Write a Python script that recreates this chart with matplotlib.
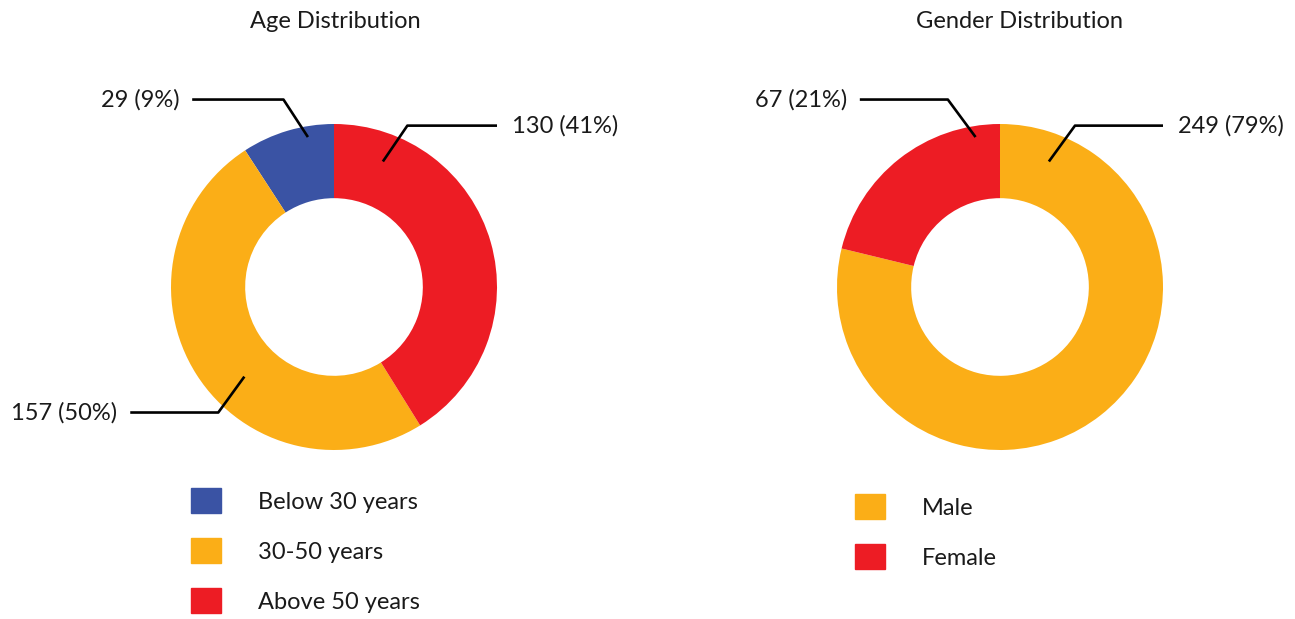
"""Age / gender donut charts."""
import matplotlib

matplotlib.use("Agg")
import matplotlib.pyplot as plt
from matplotlib.patches import Patch

plt.rcParams["font.family"] = ["Lato", "DejaVu Sans"]

age_labels = ["Below 30 years", "30-50 years", "Above 50 years"]
age_counts = [29, 157, 130]
age_pcts = [9, 50, 41]
age_colors = ["#3A53A4", "#FBAE17", "#ED1C24"]

gender_labels = ["Male", "Female"]
gender_counts = [249, 67]
gender_pcts = [79, 21]
gender_colors = ["#FBAE17", "#ED1C24"]

TEXT = "#1a1a1a"
W, H = 1295, 619
R = 163  # outer radius in px
FS = 17


def pie_axes(fig, cx, cy):
    half = 1.5 * R
    ax = fig.add_axes([(cx - half) / W, (H - cy - half) / H, 2 * half / W, 2 * half / H])
    ax.set_axis_off()
    return ax


def fix_limits(ax):
    ax.set_xlim(-1.5, 1.5)
    ax.set_ylim(-1.5, 1.5)
    ax.set_aspect("equal")


def leader(ax, tip, elbow, end_x, text, ha):
    ax.plot([tip[0], elbow[0], end_x], [tip[1], elbow[1], elbow[1]],
            color="black", lw=1.9, solid_capstyle="butt", clip_on=False)
    tx = end_x + (0.09 if ha == "left" else -0.08)
    ax.text(tx, elbow[1], text, ha=ha, va="center", fontsize=FS, color=TEXT)


fig = plt.figure(figsize=(W / 100, H / 100), dpi=100)

# Age donut
ax1 = pie_axes(fig, 334, 287)
ax1.pie(age_counts, colors=age_colors, startangle=90, counterclock=True,
        wedgeprops=dict(width=0.455, linewidth=0), radius=1)
fix_limits(ax1)
lbl = [f"{c} ({p}%)" for c, p in zip(age_counts, age_pcts)]
leader(ax1, (-0.16, 0.92), (-0.31, 1.15), -0.87, lbl[0], "right")
leader(ax1, (-0.55, -0.55), (-0.71, -0.77), -1.25, lbl[1], "right")
leader(ax1, (0.30, 0.77), (0.45, 0.99), 1.0, lbl[2], "left")

# Gender donut
ax2 = pie_axes(fig, 1000, 287)
ax2.pie(gender_counts, colors=gender_colors, startangle=90, counterclock=False,
        wedgeprops=dict(width=0.455, linewidth=0), radius=1)
fix_limits(ax2)
lbl = [f"{c} ({p}%)" for c, p in zip(gender_counts, gender_pcts)]
leader(ax2, (0.30, 0.77), (0.46, 0.99), 1.0, lbl[0], "left")
leader(ax2, (-0.15, 0.92), (-0.32, 1.15), -0.86, lbl[1], "right")

fig.text(335 / W, 1 - 21 / H, "Age Distribution", ha="center", va="center",
         fontsize=FS, color=TEXT)
fig.text(1019 / W, 1 - 21 / H, "Gender Distribution", ha="center", va="center",
         fontsize=FS, color=TEXT)

legend_kw = dict(loc="upper left", frameon=False, fontsize=FS, borderpad=0,
                 borderaxespad=0, handlelength=1.27, handleheight=1.27,
                 handletextpad=1.55, labelspacing=1.05, labelcolor=TEXT)
fig.legend([Patch(color=c) for c in age_colors], age_labels,
           bbox_to_anchor=(191 / W, 1 - 488 / H), **legend_kw)
fig.legend([Patch(color=c) for c in gender_colors], gender_labels,
           bbox_to_anchor=(855 / W, 1 - 494 / H), **legend_kw)

fig.savefig("out.png", dpi=100)
